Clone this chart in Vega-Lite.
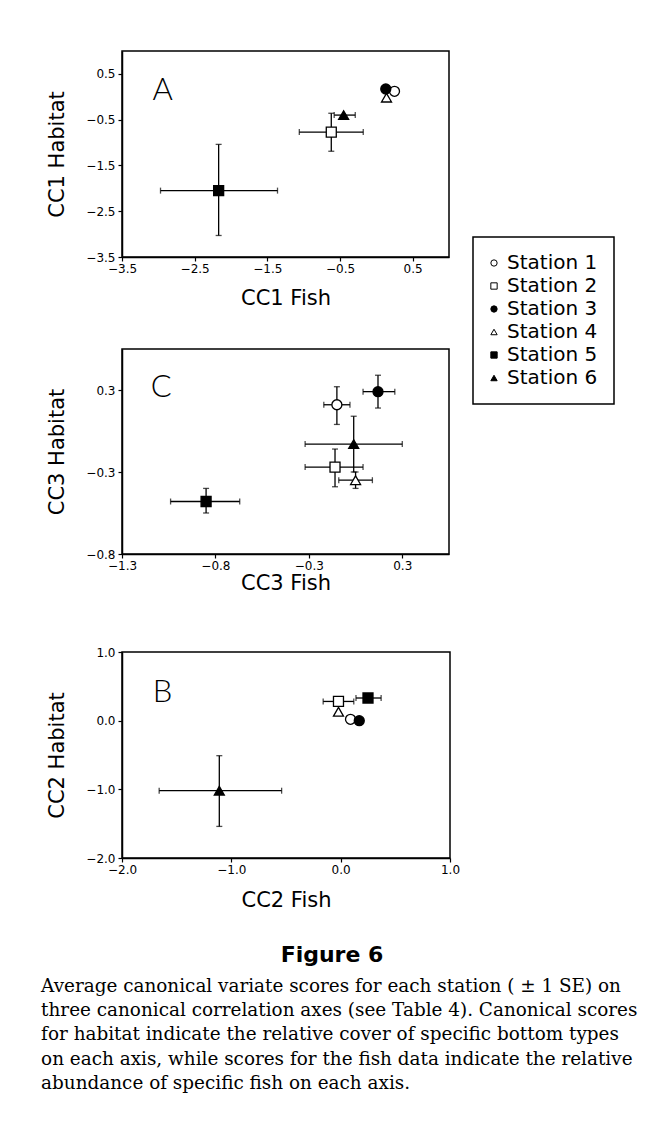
{
  "$schema": "https://vega.github.io/schema/vega-lite/v6.json",
  "background": "white",
  "padding": {"left": 41, "top": 50, "right": 5, "bottom": 5},
  "datasets": {
    "A": [
      {"station": "Station 1", "x": 0.25, "y": 0.12},
      {"station": "Station 2", "x": -0.62, "y": -0.77, "xlo": -1.06, "xhi": -0.18, "ylo": -1.19, "yhi": -0.36},
      {"station": "Station 3", "x": 0.13, "y": 0.17},
      {"station": "Station 4", "x": 0.14, "y": -0.02},
      {"station": "Station 5", "x": -2.17, "y": -2.05, "xlo": -2.97, "xhi": -1.36, "ylo": -3.03, "yhi": -1.04},
      {"station": "Station 6", "x": -0.45, "y": -0.4, "xlo": -0.58, "xhi": -0.29}
    ],
    "C": [
      {"station": "Station 1", "x": -0.15, "y": 0.11, "xlo": -0.22, "xhi": -0.08, "ylo": -0.01, "yhi": 0.22},
      {"station": "Station 2", "x": -0.16, "y": -0.27, "xlo": -0.32, "xhi": -0.01, "ylo": -0.39, "yhi": -0.16},
      {"station": "Station 3", "x": 0.07, "y": 0.19, "xlo": -0.01, "xhi": 0.16, "ylo": 0.09, "yhi": 0.29},
      {"station": "Station 4", "x": -0.05, "y": -0.35, "xlo": -0.14, "xhi": 0.04, "ylo": -0.4, "yhi": -0.3},
      {"station": "Station 5", "x": -0.85, "y": -0.48, "xlo": -1.04, "xhi": -0.67, "ylo": -0.55, "yhi": -0.4},
      {"station": "Station 6", "x": -0.06, "y": -0.13, "xlo": -0.32, "xhi": 0.2, "ylo": -0.3, "yhi": 0.04}
    ],
    "B": [
      {"station": "Station 1", "x": 0.09, "y": 0.02},
      {"station": "Station 2", "x": -0.02, "y": 0.28, "xlo": -0.16, "xhi": 0.12},
      {"station": "Station 3", "x": 0.17, "y": 0.0},
      {"station": "Station 4", "x": -0.02, "y": 0.13},
      {"station": "Station 5", "x": 0.25, "y": 0.33, "xlo": 0.14, "xhi": 0.37},
      {"station": "Station 6", "x": -1.11, "y": -1.02, "xlo": -1.66, "xhi": -0.54, "ylo": -1.54, "yhi": -0.51}
    ]
  },
  "config": {
    "font": "DejaVu Sans",
    "view": {"stroke": "black", "strokeWidth": 1.5},
    "axis": {
      "grid": false, "domainColor": "black", "domainWidth": 1.5, "tickColor": "black", "tickWidth": 1.2, "tickSize": 4,
      "labelColor": "black", "labelFont": "DejaVu Sans", "labelFontSize": 12, "labelPadding": 2, "labelFlush": false, "labelOverlap": false, "labelBound": false,
      "titleColor": "black", "titleFont": "DejaVu Sans", "titleFontSize": 21, "titleFontWeight": "normal"
    },
    "axisY": {"titlePadding": 18, "labelPadding": 3},
    "legend": {
      "orient": "none", "legendX": 351, "legendY": 186, "strokeColor": "black", "strokeWidth": 1.5, "padding": 16,
      "symbolSize": 40, "symbolStrokeColor": "black", "symbolStrokeWidth": 1, "labelFont": "DejaVu Sans", "labelFontSize": 20,
      "labelColor": "black", "rowPadding": 3, "labelOffset": 3, "symbolOffset": -5
    }
  },
  "title": {
    "text": [
      "Average canonical variate scores for each station ( ± 1 SE) on",
      "three canonical correlation axes (see Table 4). Canonical scores",
      "for habitat indicate the relative cover of specific bottom types",
      "on each axis, while scores for the fish data indicate the relative",
      "abundance of specific fish on each axis."
    ],
    "orient": "bottom", "anchor": "start", "frame": "bounds", "font": "DejaVu Serif", "fontSize": 18.4, "fontWeight": "normal",
    "lineHeight": 24.3, "offset": 10, "color": "black", "dx": -5
  },
  "spacing": 51,
  "vconcat": [
    {
      "spacing": 39,
      "vconcat": [
        {
          "width": 327, "height": 206,
          "data": {"name": "A"},
          "layer": [
            {
              "transform": [{"filter": "isValid(datum.xlo)"}],
              "mark": {"type": "errorbar", "color": "black", "ticks": {"size": 6, "thickness": 1.3}, "rule": {"strokeWidth": 1.3}},
              "encoding": {
                "x": {"field": "xlo", "type": "quantitative", "title": "CC1 Fish", "scale": {"domain": [-3.5, 1], "nice": false, "zero": false}, "axis": {"values": [-3.5, -2.5, -1.5, -0.5, 0.5], "format": ".1f", "titlePadding": 13}},
                "x2": {"field": "xhi"},
                "y": {"field": "y", "type": "quantitative", "title": "CC1 Habitat", "scale": {"domain": [-3.5, 1], "nice": false, "zero": false}, "axis": {"values": [-3.5, -2.5, -1.5, -0.5, 0.5], "format": ".1f"}}
              }
            },
            {
              "transform": [{"filter": "isValid(datum.ylo)"}],
              "mark": {"type": "errorbar", "color": "black", "ticks": {"size": 6, "thickness": 1.3}, "rule": {"strokeWidth": 1.3}},
              "encoding": {
                "y": {"field": "ylo", "type": "quantitative", "title": "CC1 Habitat", "scale": {"domain": [-3.5, 1], "nice": false, "zero": false}, "axis": {"values": [-3.5, -2.5, -1.5, -0.5, 0.5], "format": ".1f"}},
                "y2": {"field": "yhi"},
                "x": {"field": "x", "type": "quantitative", "title": "CC1 Fish", "scale": {"domain": [-3.5, 1], "nice": false, "zero": false}, "axis": {"values": [-3.5, -2.5, -1.5, -0.5, 0.5], "format": ".1f", "titlePadding": 13}}
              }
            },
            {
              "mark": {"type": "point", "filled": true, "size": 100, "strokeWidth": 1.3, "opacity": 1},
              "encoding": {
                "x": {"field": "x", "type": "quantitative", "title": "CC1 Fish", "scale": {"domain": [-3.5, 1], "nice": false, "zero": false}, "axis": {"values": [-3.5, -2.5, -1.5, -0.5, 0.5], "format": ".1f", "titlePadding": 13}},
                "y": {"field": "y", "type": "quantitative", "title": "CC1 Habitat", "scale": {"domain": [-3.5, 1], "nice": false, "zero": false}, "axis": {"values": [-3.5, -2.5, -1.5, -0.5, 0.5], "format": ".1f"}},
                "shape": {"field": "station", "type": "nominal", "title": null, "scale": {"domain": ["Station 1", "Station 2", "Station 3", "Station 4", "Station 5", "Station 6"], "range": ["circle", "square", "circle", "triangle-up", "square", "triangle-up"]}},
                "fill": {"field": "station", "type": "nominal", "title": null, "scale": {"domain": ["Station 1", "Station 2", "Station 3", "Station 4", "Station 5", "Station 6"], "range": ["white", "white", "black", "white", "black", "black"]}},
                "stroke": {"field": "station", "type": "nominal", "title": null, "scale": {"domain": ["Station 1", "Station 2", "Station 3", "Station 4", "Station 5", "Station 6"], "range": ["black", "black", "black", "black", "black", "black"]}}
              }
            },
            {
              "data": {"values": [{"label": "A"}]},
              "mark": {"type": "text", "font": "Lato", "fontWeight": 300, "fontSize": 31, "align": "center", "baseline": "middle", "color": "black"},
              "encoding": {
                "x": {"datum": -2.94, "type": "quantitative", "title": "CC1 Fish", "scale": {"domain": [-3.5, 1], "nice": false, "zero": false}, "axis": {"values": [-3.5, -2.5, -1.5, -0.5, 0.5], "format": ".1f", "titlePadding": 13}},
                "y": {"datum": 0.13, "type": "quantitative", "title": "CC1 Habitat", "scale": {"domain": [-3.5, 1], "nice": false, "zero": false}, "axis": {"values": [-3.5, -2.5, -1.5, -0.5, 0.5], "format": ".1f"}},
                "text": {"field": "label"}
              }
            }
          ]
        },
        {
          "width": 327, "height": 205,
          "data": {"name": "C"},
          "layer": [
            {
              "transform": [{"filter": "isValid(datum.xlo)"}],
              "mark": {"type": "errorbar", "color": "black", "ticks": {"size": 6, "thickness": 1.3}, "rule": {"strokeWidth": 1.3}},
              "encoding": {
                "x": {"field": "xlo", "type": "quantitative", "title": "CC3 Fish", "scale": {"domain": [-1.3, 0.45], "nice": false, "zero": false}, "axis": {"values": [-1.3, -0.8, -0.3, 0.2], "labelExpr": "abs(datum.value - 0.2) < 0.01 ? '0.3' : format(datum.value, '.1f')", "titlePadding": 1}},
                "x2": {"field": "xhi"},
                "y": {"field": "y", "type": "quantitative", "title": "CC3 Habitat", "scale": {"domain": [-0.8, 0.45], "nice": false, "zero": false}, "axis": {"values": [-0.8, -0.3, 0.2], "labelExpr": "abs(datum.value - 0.2) < 0.01 ? '0.3' : format(datum.value, '.1f')"}}
              }
            },
            {
              "transform": [{"filter": "isValid(datum.ylo)"}],
              "mark": {"type": "errorbar", "color": "black", "ticks": {"size": 6, "thickness": 1.3}, "rule": {"strokeWidth": 1.3}},
              "encoding": {
                "y": {"field": "ylo", "type": "quantitative", "title": "CC3 Habitat", "scale": {"domain": [-0.8, 0.45], "nice": false, "zero": false}, "axis": {"values": [-0.8, -0.3, 0.2], "labelExpr": "abs(datum.value - 0.2) < 0.01 ? '0.3' : format(datum.value, '.1f')"}},
                "y2": {"field": "yhi"},
                "x": {"field": "x", "type": "quantitative", "title": "CC3 Fish", "scale": {"domain": [-1.3, 0.45], "nice": false, "zero": false}, "axis": {"values": [-1.3, -0.8, -0.3, 0.2], "labelExpr": "abs(datum.value - 0.2) < 0.01 ? '0.3' : format(datum.value, '.1f')", "titlePadding": 1}}
              }
            },
            {
              "mark": {"type": "point", "filled": true, "size": 100, "strokeWidth": 1.3, "opacity": 1},
              "encoding": {
                "x": {"field": "x", "type": "quantitative", "title": "CC3 Fish", "scale": {"domain": [-1.3, 0.45], "nice": false, "zero": false}, "axis": {"values": [-1.3, -0.8, -0.3, 0.2], "labelExpr": "abs(datum.value - 0.2) < 0.01 ? '0.3' : format(datum.value, '.1f')", "titlePadding": 1}},
                "y": {"field": "y", "type": "quantitative", "title": "CC3 Habitat", "scale": {"domain": [-0.8, 0.45], "nice": false, "zero": false}, "axis": {"values": [-0.8, -0.3, 0.2], "labelExpr": "abs(datum.value - 0.2) < 0.01 ? '0.3' : format(datum.value, '.1f')"}},
                "shape": {"field": "station", "type": "nominal", "title": null, "scale": {"domain": ["Station 1", "Station 2", "Station 3", "Station 4", "Station 5", "Station 6"], "range": ["circle", "square", "circle", "triangle-up", "square", "triangle-up"]}},
                "fill": {"field": "station", "type": "nominal", "title": null, "scale": {"domain": ["Station 1", "Station 2", "Station 3", "Station 4", "Station 5", "Station 6"], "range": ["white", "white", "black", "white", "black", "black"]}},
                "stroke": {"field": "station", "type": "nominal", "title": null, "scale": {"domain": ["Station 1", "Station 2", "Station 3", "Station 4", "Station 5", "Station 6"], "range": ["black", "black", "black", "black", "black", "black"]}}
              }
            },
            {
              "data": {"values": [{"label": "C"}]},
              "mark": {"type": "text", "font": "Lato", "fontWeight": 300, "fontSize": 31, "align": "center", "baseline": "middle", "color": "black"},
              "encoding": {
                "x": {"datum": -1.09, "type": "quantitative", "title": "CC3 Fish", "scale": {"domain": [-1.3, 0.45], "nice": false, "zero": false}, "axis": {"values": [-1.3, -0.8, -0.3, 0.2], "labelExpr": "abs(datum.value - 0.2) < 0.01 ? '0.3' : format(datum.value, '.1f')", "titlePadding": 1}},
                "y": {"datum": 0.21, "type": "quantitative", "title": "CC3 Habitat", "scale": {"domain": [-0.8, 0.45], "nice": false, "zero": false}, "axis": {"values": [-0.8, -0.3, 0.2], "labelExpr": "abs(datum.value - 0.2) < 0.01 ? '0.3' : format(datum.value, '.1f')"}},
                "text": {"field": "label"}
              }
            }
          ]
        }
      ]
    },
    {
      "width": 328, "height": 206,
      "data": {"name": "B"},
      "title": {"text": "Figure 6", "orient": "bottom", "anchor": "middle", "frame": "group", "font": "DejaVu Sans", "fontSize": 22, "fontWeight": "bold", "dx": 46, "offset": 35, "color": "black"},
      "layer": [
        {
          "transform": [{"filter": "isValid(datum.xlo)"}],
          "mark": {"type": "errorbar", "color": "black", "ticks": {"size": 6, "thickness": 1.3}, "rule": {"strokeWidth": 1.3}},
          "encoding": {
            "x": {"field": "xlo", "type": "quantitative", "title": "CC2 Fish", "scale": {"domain": [-2, 1], "nice": false, "zero": false}, "axis": {"values": [-2, -1, 0, 1], "format": ".1f", "titlePadding": 14}},
            "x2": {"field": "xhi"},
            "y": {"field": "y", "type": "quantitative", "title": "CC2 Habitat", "scale": {"domain": [-2, 1], "nice": false, "zero": false}, "axis": {"values": [-2, -1, 0, 1], "format": ".1f"}}
          }
        },
        {
          "transform": [{"filter": "isValid(datum.ylo)"}],
          "mark": {"type": "errorbar", "color": "black", "ticks": {"size": 6, "thickness": 1.3}, "rule": {"strokeWidth": 1.3}},
          "encoding": {
            "y": {"field": "ylo", "type": "quantitative", "title": "CC2 Habitat", "scale": {"domain": [-2, 1], "nice": false, "zero": false}, "axis": {"values": [-2, -1, 0, 1], "format": ".1f"}},
            "y2": {"field": "yhi"},
            "x": {"field": "x", "type": "quantitative", "title": "CC2 Fish", "scale": {"domain": [-2, 1], "nice": false, "zero": false}, "axis": {"values": [-2, -1, 0, 1], "format": ".1f", "titlePadding": 14}}
          }
        },
        {
          "mark": {"type": "point", "filled": true, "size": 100, "strokeWidth": 1.3, "opacity": 1},
          "encoding": {
            "x": {"field": "x", "type": "quantitative", "title": "CC2 Fish", "scale": {"domain": [-2, 1], "nice": false, "zero": false}, "axis": {"values": [-2, -1, 0, 1], "format": ".1f", "titlePadding": 14}},
            "y": {"field": "y", "type": "quantitative", "title": "CC2 Habitat", "scale": {"domain": [-2, 1], "nice": false, "zero": false}, "axis": {"values": [-2, -1, 0, 1], "format": ".1f"}},
            "shape": {"field": "station", "type": "nominal", "title": null, "scale": {"domain": ["Station 1", "Station 2", "Station 3", "Station 4", "Station 5", "Station 6"], "range": ["circle", "square", "circle", "triangle-up", "square", "triangle-up"]}},
            "fill": {"field": "station", "type": "nominal", "title": null, "scale": {"domain": ["Station 1", "Station 2", "Station 3", "Station 4", "Station 5", "Station 6"], "range": ["white", "white", "black", "white", "black", "black"]}},
            "stroke": {"field": "station", "type": "nominal", "title": null, "scale": {"domain": ["Station 1", "Station 2", "Station 3", "Station 4", "Station 5", "Station 6"], "range": ["black", "black", "black", "black", "black", "black"]}}
          }
        },
        {
          "data": {"values": [{"label": "B"}]},
          "mark": {"type": "text", "font": "Lato", "fontWeight": 300, "fontSize": 31, "align": "center", "baseline": "middle", "color": "black"},
          "encoding": {
            "x": {"datum": -1.63, "type": "quantitative", "title": "CC2 Fish", "scale": {"domain": [-2, 1], "nice": false, "zero": false}, "axis": {"values": [-2, -1, 0, 1], "format": ".1f", "titlePadding": 14}},
            "y": {"datum": 0.41, "type": "quantitative", "title": "CC2 Habitat", "scale": {"domain": [-2, 1], "nice": false, "zero": false}, "axis": {"values": [-2, -1, 0, 1], "format": ".1f"}},
            "text": {"field": "label"}
          }
        }
      ]
    }
  ]
}
